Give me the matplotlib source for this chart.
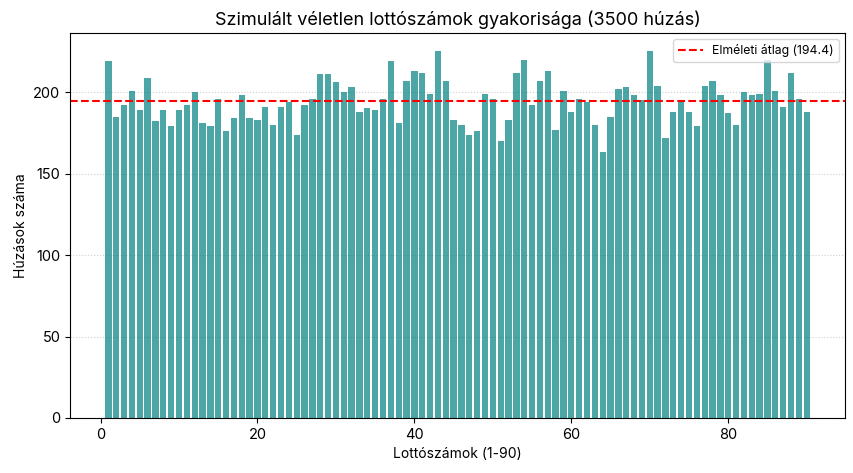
import numpy as np
import matplotlib
matplotlib.use("Agg")
import matplotlib.pyplot as plt

plt.rcParams['font.family'] = ['Inter', 'DejaVu Sans']

# Lottószámok 1-90 és a húzások száma
numbers = list(range(1, 91))
counts = [
    219, 185, 192, 201, 189, 209, 182, 189, 179, 189,
    192, 200, 181, 179, 196, 176, 184, 198, 184, 183,
    191, 180, 191, 194, 174, 192, 196, 211, 211, 206,
    200, 203, 188, 190, 189, 196, 219, 181, 207, 213,
    212, 199, 225, 207, 183, 180, 174, 176, 199, 196,
    170, 183, 212, 220, 192, 207, 213, 177, 201, 188,
    196, 194, 180, 163, 185, 202, 203, 198, 195, 225,
    204, 172, 188, 194, 188, 179, 204, 207, 198, 187,
    180, 200, 198, 199, 220, 201, 191, 212, 196, 188,
]
mean_value = 194.4

fig = plt.figure(figsize=(8.54, 4.73), dpi=100)
ax = fig.add_axes([0.082, 0.1163, 0.9075, 0.8137])

ax.bar(numbers, counts, width=0.8, color='teal', alpha=0.7)
ax.axhline(mean_value, color='red', linestyle='--', linewidth=1.5,
           label=f"Elméleti átlag ({mean_value})")

ax.set_title("Szimulált véletlen lottószámok gyakorisága (3500 húzás)", fontsize=13)
ax.set_xlabel("Lottószámok (1-90)", fontsize=10)
ax.set_ylabel("Húzások száma", fontsize=10)
ax.tick_params(labelsize=10.5)
ax.grid(axis='y', linestyle=':', alpha=0.6)
ax.set_axisbelow(True)
ax.legend(loc='upper right', fontsize=8.8)

fig.savefig("out.png", dpi=100)
